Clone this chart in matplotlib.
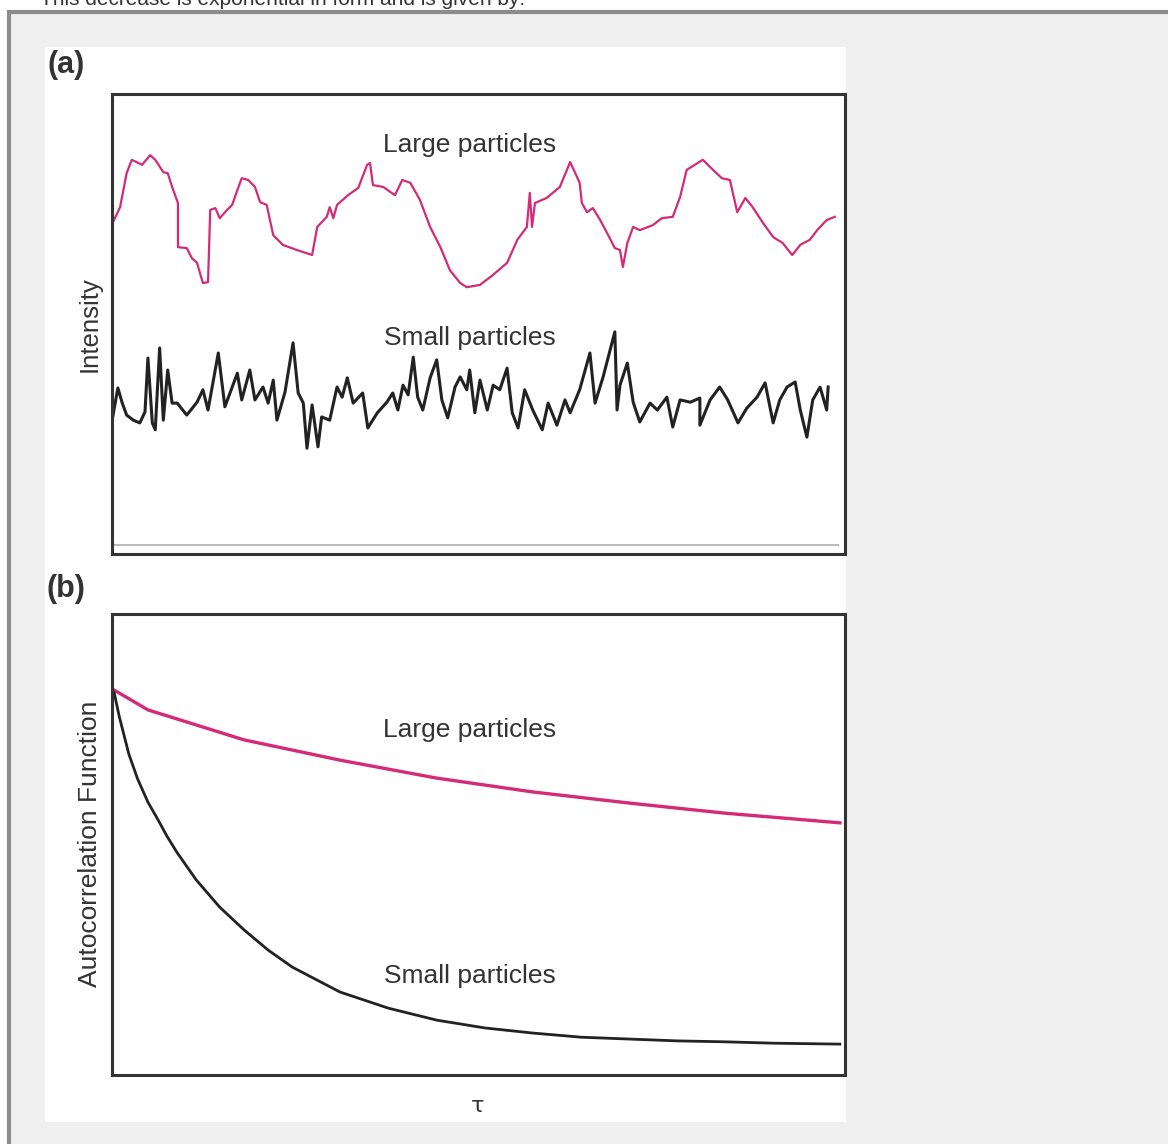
import matplotlib
matplotlib.use("Agg")
import matplotlib.pyplot as plt
from matplotlib.patches import Rectangle

plt.rcParams["font.family"] = ["Liberation Sans", "DejaVu Sans"]

# (a) intensity traces, time in arbitrary units (0-100), intensity 0-100
large_a_t = [0.1, 1.1, 2.0, 2.7, 4.1, 5.2, 5.9, 7.0, 7.6, 8.2, 9.0, 9.0, 10.2, 10.9, 11.6, 12.0,
             12.4, 13.1, 13.4, 14.1, 14.7, 15.7, 16.4, 17.1, 17.7, 18.6, 19.5, 20.2, 21.1, 22.0,
             23.3, 25.2, 27.3, 28.0, 29.3, 29.7, 30.2, 30.7, 32.2, 33.6, 34.8, 35.2, 35.6, 37.0,
             38.6, 39.6, 40.7, 42.0, 43.4, 44.8, 46.1, 47.5, 48.4, 50.2, 51.6, 52.0, 53.9, 55.3,
             56.6, 57.0, 57.3, 57.7, 59.3, 61.1, 62.5, 63.2, 63.8, 64.1, 64.8, 65.6, 66.6, 67.7,
             68.6, 69.3, 69.7, 70.3, 71.1, 72.0, 73.8, 75.0, 76.5, 77.5, 78.4, 79.5, 80.6, 82.0,
             83.2, 84.3, 85.3, 86.4, 87.4, 88.8, 90.2, 91.5, 92.8, 93.9, 95.2, 96.2, 97.5, 98.6]
large_a_i = [72.0, 75.4, 82.8, 85.7, 84.6, 86.7, 85.7, 83.0, 82.8, 79.8, 76.3, 66.7, 66.5, 64.3, 63.3, 61.1,
             58.9, 59.1, 74.8, 75.2, 73.0, 74.8, 75.9, 79.1, 81.7, 81.3, 79.8, 76.5, 75.9, 69.3,
             67.2, 66.1, 65.0, 71.1, 73.3, 75.4, 73.0, 75.9, 78.0, 79.6, 84.6, 85.0, 80.2, 79.8,
             78.0, 81.3, 80.7, 77.0, 71.1, 66.7, 61.7, 58.9, 58.0, 58.5, 60.2, 60.7, 63.3, 68.3,
             71.1, 78.5, 71.1, 76.3, 77.4, 79.8, 85.2, 82.8, 80.7, 76.3, 74.3, 75.2, 72.6, 69.3,
             66.5, 66.1, 62.4, 67.6, 71.1, 70.4, 71.5, 73.0, 73.3, 77.6, 83.5, 84.6, 85.7, 83.5,
             81.7, 81.3, 74.3, 77.4, 75.4, 72.0, 68.9, 67.6, 65.0, 67.2, 68.3, 70.4, 72.6, 73.3]

small_a_t = [0.1, 0.8, 1.4, 2.0, 2.9, 3.8, 4.5, 4.9, 5.5, 5.9, 6.5, 7.0, 7.6, 8.2, 8.9, 10.2,
             11.6, 12.4, 13.1, 14.5, 15.4, 17.1, 17.7, 18.8, 19.5, 20.6, 21.3, 22.0, 22.5, 23.6,
             24.7, 25.4, 26.1, 26.6, 27.3, 28.1, 28.6, 29.7, 30.7, 31.4, 32.1, 32.9, 34.2, 34.9,
             36.2, 37.5, 38.3, 39.0, 39.7, 40.4, 41.1, 41.7, 42.4, 43.4, 44.3, 45.0, 45.8, 46.8,
             47.5, 48.4, 48.8, 49.5, 50.2, 51.2, 52.0, 52.9, 53.9, 54.6, 55.4, 56.3, 57.4, 58.7,
             59.5, 60.7, 61.8, 62.5, 63.8, 65.2, 65.9, 67.0, 68.6, 68.9, 69.3, 70.3, 71.1, 72.0,
             73.4, 74.4, 75.7, 76.5, 77.5, 78.9, 80.2, 80.2, 81.6, 82.9, 84.0, 85.4, 86.6, 88.0,
             89.1, 90.2, 91.1, 92.1, 93.2, 93.9, 94.8, 95.6, 96.6, 97.5, 97.7]
small_a_i = [29.8, 36.1, 32.8, 30.2, 29.1, 28.5, 30.9, 42.6, 28.5, 27.0, 44.8, 29.1, 40.0, 32.8, 32.8, 30.2,
             33.0, 35.7, 31.3, 43.7, 32.0, 39.3, 33.5, 40.0, 33.5, 36.3, 32.8, 37.8, 29.1, 35.2,
             45.9, 35.0, 32.8, 23.0, 32.4, 23.3, 29.8, 29.1, 36.3, 34.1, 38.3, 32.8, 35.0, 27.4,
             30.7, 33.0, 35.0, 31.3, 36.7, 34.6, 42.8, 34.1, 31.3, 38.3, 42.2, 33.5, 29.6, 36.3,
             38.5, 35.7, 40.0, 30.7, 37.8, 31.3, 36.7, 35.7, 40.4, 30.7, 27.4, 35.7, 31.3, 27.0,
             32.8, 28.0, 33.5, 30.7, 35.7, 43.7, 32.8, 38.5, 48.3, 31.3, 36.7, 41.5, 33.0, 28.7,
             32.8, 31.3, 34.1, 27.6, 33.5, 33.0, 33.9, 28.0, 33.5, 36.3, 33.5, 28.5, 31.7, 34.1,
             37.2, 28.5, 33.5, 36.3, 37.4, 31.3, 25.4, 33.5, 36.3, 31.3, 36.3]

# (b) autocorrelation functions vs tau
tau_large = [0.3, 4.9, 18.0, 31.1, 44.3, 57.4, 70.5, 83.6, 99.3]
acf_large = [83.5, 79.2, 72.7, 68.3, 64.4, 61.4, 59.0, 56.8, 54.7]

tau_small = [0.3, 1.0, 2.3, 3.5, 4.9, 6.3, 7.5, 8.9, 11.5, 14.7, 18.0, 21.3, 24.6, 31.1, 37.7,
             44.3, 50.9, 57.4, 64.0, 70.5, 77.1, 83.6, 90.2, 99.3]
acf_small = [82.9, 77.7, 69.6, 64.2, 59.2, 55.3, 51.8, 48.2, 42.3, 36.4, 31.5, 27.1, 23.4, 18.0, 14.5,
             11.9, 10.2, 9.1, 8.2, 7.8, 7.4, 7.2, 6.9, 6.7]

PINK = "#d42a78"
DARK = "#222222"
TEXT = "#333333"

W, H = 1168, 1144
fig = plt.figure(figsize=(W / 100, H / 100), dpi=100, facecolor="white")


def fx(px):
    return px / W


def fy(py):
    return 1 - py / H


# page frame and white figure panel (behind the axes)
fig.add_artist(Rectangle((fx(9), fy(1200)), fx(1250), (1200 - 11.5) / H, transform=fig.transFigure,
                         facecolor="#f0f0f0", edgecolor="#8c8c8c", linewidth=3, zorder=-20))
fig.add_artist(Rectangle((fx(45), fy(1122)), fx(846 - 45), (1122 - 47) / H, transform=fig.transFigure,
                         facecolor="white", edgecolor="none", zorder=-10))

fig.text(fx(40), fy(5), "This decrease is exponential in form and is given by:",
         fontsize=15, color=TEXT, ha="left", va="baseline")

ax_a = fig.add_axes([fx(112), fy(554), fx(845 - 112), (554 - 94) / H])
ax_b = fig.add_axes([fx(112), fy(1075), fx(845 - 112), (1075 - 614) / H])

for ax in (ax_a, ax_b):
    ax.set_xlim(0, 100)
    ax.set_ylim(0, 100)
    ax.set_xticks([])
    ax.set_yticks([])
    ax.set_facecolor("white")
    for sp in ax.spines.values():
        sp.set_linewidth(2.2)
        sp.set_color(TEXT)

ax_a.plot(large_a_t, large_a_i, color=PINK, linewidth=1.6)
ax_a.plot(small_a_t, small_a_i, color=DARK, linewidth=2.2)
ax_a.axhline(2.0, xmax=0.99, color="#bbbbbb", linewidth=1.5)
ax_a.text(48.8, 88.9, "Large particles", fontsize=19, color=TEXT, ha="center", va="center")
ax_a.text(48.8, 47.0, "Small particles", fontsize=19, color=TEXT, ha="center", va="center")

ax_b.plot(tau_large, acf_large, color=PINK, linewidth=2.4)
ax_b.plot(tau_small, acf_small, color=DARK, linewidth=2.0)
ax_b.text(48.8, 74.8, "Large particles", fontsize=19, color=TEXT, ha="center", va="center")
ax_b.text(48.8, 21.5, "Small particles", fontsize=19, color=TEXT, ha="center", va="center")

fig.text(fx(66), fy(65), "(a)", fontsize=22, fontweight="bold", color=TEXT, ha="center", va="center")
fig.text(fx(66), fy(589), "(b)", fontsize=22, fontweight="bold", color=TEXT, ha="center", va="center")
fig.text(fx(90), fy(324), "Intensity", fontsize=18.5, color=TEXT, rotation=90, ha="center", va="center")
fig.text(fx(90), fy(844), "Autocorrelation Function", fontsize=19, color=TEXT, rotation=90,
         ha="center", va="center")
fig.text(fx(478), fy(1106), "τ", fontsize=16, color=TEXT, ha="center", va="center", family="DejaVu Sans")

fig.savefig("out.png", dpi=100, facecolor=fig.get_facecolor())
